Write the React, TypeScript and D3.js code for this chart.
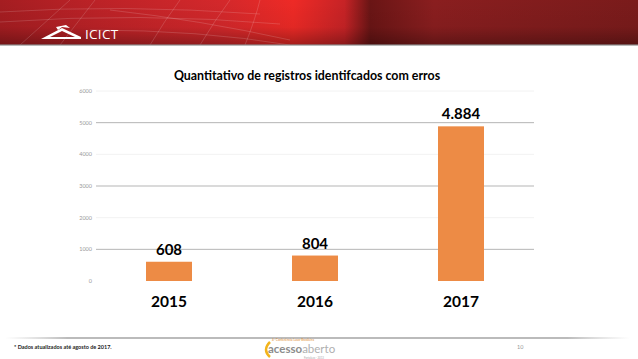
import React from "react";
import * as d3 from "d3";

const years = ["2015", "2016", "2017"];
const values = [608, 804, 4884];
const valueLabels = ["608", "804", "4.884"];
const yTicks = [0, 1000, 2000, 3000, 4000, 5000, 6000];

const W = 638;
const H = 359;

export default function App() {
  const x = d3
    .scaleBand<string>()
    .domain(years)
    .range([96, 534])
    .paddingInner(0.685)
    .paddingOuter(0.3425);
  const y = d3.scaleLinear().domain([0, 6000]).range([281, 91]);

  return (
    <svg
      width={W}
      height={H}
      style={{ position: "absolute", left: 0, top: 0, background: "#fff" }}
      fontFamily="Lato, 'Open Sans', sans-serif"
    >
      <defs>
        <linearGradient id="hdr" x1="0" x2="1" y1="0" y2="0">
          <stop offset="0" stopColor="#a51d21" />
          <stop offset="0.15" stopColor="#bc2227" />
          <stop offset="0.35" stopColor="#d4282b" />
          <stop offset="0.46" stopColor="#ee2a26" />
          <stop offset="0.54" stopColor="#c72326" />
          <stop offset="0.58" stopColor="#6a1515" />
          <stop offset="0.68" stopColor="#8a1e1f" />
          <stop offset="1" stopColor="#7a1b1b" />
        </linearGradient>
        <linearGradient id="hdrv" x1="0" x2="0" y1="0" y2="1">
          <stop offset="0" stopColor="#000" stopOpacity="0" />
          <stop offset="0.6" stopColor="#000" stopOpacity="0.05" />
          <stop offset="1" stopColor="#000" stopOpacity="0.3" />
        </linearGradient>
        <linearGradient id="foot" x1="0" x2="1" y1="0" y2="0">
          <stop offset="0" stopColor="#ccc" stopOpacity="0" />
          <stop offset="0.1" stopColor="#bbb" />
          <stop offset="0.9" stopColor="#bbb" />
          <stop offset="1" stopColor="#ccc" stopOpacity="0" />
        </linearGradient>
      </defs>

      {/* header banner */}
      <rect x={0} y={0} width={W} height={45} fill="url(#hdr)" />
      <rect x={0} y={0} width={W} height={45} fill="url(#hdrv)" />
      <g stroke="#ffffff" strokeOpacity={0.25} fill="none" strokeWidth={0.6}>
        <path d="M0,12 Q120,4 260,14" />
        <path d="M0,22 Q140,12 280,24" />
        <path d="M20,45 L70,0" />
        <path d="M60,45 L95,0" />
        <path d="M150,45 Q165,20 180,0" />
        <path d="M200,45 Q215,20 230,0" />
        <path d="M245,45 Q255,20 260,0" />
        <path d="M110,10 Q200,20 290,40" />
        <path d="M90,30 Q200,30 290,45" />
      </g>
      <rect x={0} y={44} width={W} height={2} fill="#8c8c8c" opacity={0.6} />
      {/* ICICT logo */}
      <g fill="#fff">
        <path d="M41,39 L62,28 L81,37 L81,39 Z M50,37 L75,37 L62,31 Z" fillRule="evenodd" />
        <path d="M56,27 L66,25 L70,28 L62,27 L58,30 Z" />
      </g>
      <text x={85} y={39} fill="#fff" fontSize={13.5} fontFamily="'Open Sans', sans-serif" letterSpacing={0.3}>
        ICICT
      </text>

      {/* title */}
      <text x={307} y={80} textAnchor="middle" fontSize={12.4} fontWeight="bold" fill="#000">
        Quantitativo de registros identifcados com erros
      </text>

      {/* gridlines */}
      {yTicks
        .filter((t) => t > 0)
        .map((t, i) => (
          <line
            key={t}
            x1={96}
            x2={534}
            y1={y(t)}
            y2={y(t)}
            stroke={i % 2 === 0 ? "#b5b5b5" : "#f2f2f2"}
            strokeWidth={1}
          />
        ))}
      {yTicks.map((t) => (
        <text key={t} x={92} y={y(t) + 2} textAnchor="end" fontSize={5.5} fill="#9a9a9a">
          {t}
        </text>
      ))}

      {/* bars */}
      {years.map((yr, i) => (
        <g key={yr}>
          <rect
            x={x(yr)}
            y={y(values[i])}
            width={x.bandwidth()}
            height={y(0) - y(values[i])}
            fill="#ED8B45"
          />
          <text
            x={(x(yr) as number) + x.bandwidth() / 2}
            y={y(values[i]) - 7}
            textAnchor="middle"
            fontSize={15}
            fontWeight="bold"
            fill="#000"
          >
            {valueLabels[i]}
          </text>
          <text
            x={(x(yr) as number) + x.bandwidth() / 2}
            y={307}
            textAnchor="middle"
            fontSize={15.5}
            fontWeight="bold"
            fill="#000"
          >
            {yr}
          </text>
        </g>
      ))}

      {/* footer */}
      <rect x={5} y={337} width={625} height={2} fill="url(#foot)" />
      <text x={14} y={349} fontSize={5.5} fontWeight="bold" fill="#222">
        * Dados atualizados até agosto de 2017.
      </text>
      <text x={517} y={349} fontSize={5.5} fill="#999">
        10
      </text>
      <g>
        <path d="M270,342 Q262,350 270,357" stroke="#f3b41b" strokeWidth={2.5} fill="none" />
        <text x={272} y={340.5} fontSize={3.2} fill="#e08a2a">
          4ª Conferência Luso-Brasileira
        </text>
        <text x={268} y={353} fontSize={11.5} fontWeight="bold" fill="#8c8c8c">
          acesso
          <tspan fontWeight="normal" fill="#b0b0b0">aberto</tspan>
        </text>
        <text x={304} y={358.5} fontSize={2.8} fill="#aaa">
          Fortaleza · 2013
        </text>
      </g>
    </svg>
  );
}
